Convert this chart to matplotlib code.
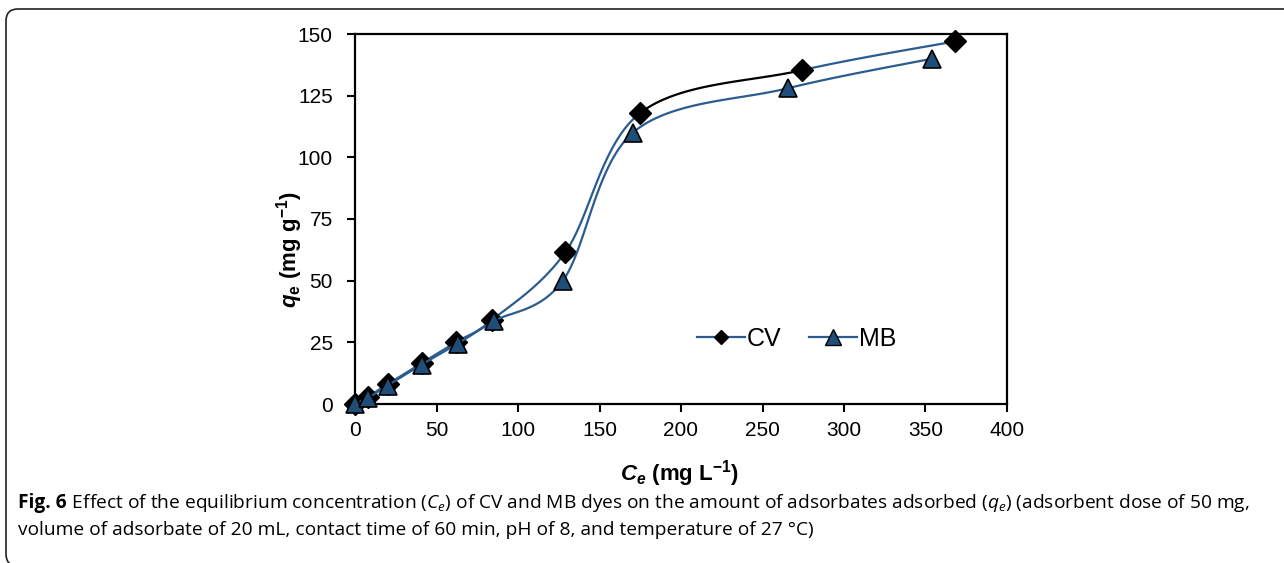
import numpy as np
import matplotlib
matplotlib.use("Agg")
import matplotlib.pyplot as plt
from matplotlib.patches import FancyBboxPatch

# values
cv_ce = [0, 8, 20, 41, 62, 84, 129, 175, 274, 368]
cv_qe = [0, 3, 8, 16.6, 25.1, 34, 61.5, 118, 135.3, 147]
mb_ce = [0, 8, 20, 41, 63, 85, 127.5, 170.5, 265.5, 354]
mb_qe = [0, 2.5, 7.5, 16, 24.5, 33.5, 50, 110, 128, 140]
x_ticks = [0, 50, 100, 150, 200, 250, 300, 350, 400]
y_ticks = [0, 25, 50, 75, 100, 125, 150]

BLUE = "#2B5C8F"
TRI = "#1F4E79"

plt.rcParams["mathtext.fontset"] = "custom"
plt.rcParams["mathtext.rm"] = "Open Sans"
plt.rcParams["mathtext.it"] = "Open Sans:italic"
plt.rcParams["mathtext.bf"] = "Liberation Sans:bold"
plt.rcParams["mathtext.bfit"] = "Liberation Sans:bold:italic"


def smooth(x, y, n=40):
    """Excel-like smoothed line: one cubic Bezier per segment."""
    p = np.column_stack([x, y]).astype(float)
    p = np.vstack([p[0], p, p[-1]])
    t = np.linspace(0, 1, n)[:, None]
    segs = []
    for i in range(1, len(p) - 2):
        p0, p1, p2, p3 = p[i - 1], p[i], p[i + 1], p[i + 2]
        c1 = p1 + (p2 - p0) / 6
        c2 = p2 - (p3 - p1) / 6
        segs.append((1 - t) ** 3 * p1 + 3 * (1 - t) ** 2 * t * c1
                    + 3 * (1 - t) * t ** 2 * c2 + t ** 3 * p2)
    return segs


fig = plt.figure(figsize=(12.84, 5.63), dpi=100)
ax = fig.add_axes([355 / 1284, 1 - 404 / 563, 652 / 1284, 370 / 563])

# CV: blue smoothed line, one black segment as in the original
cv_segs = smooth(cv_ce, cv_qe)
for i, s in enumerate(cv_segs):
    ax.plot(s[:, 0], s[:, 1], color="black" if i == 7 else BLUE, lw=1.6,
            solid_capstyle="round", clip_on=False, zorder=2)
ax.plot(cv_ce, cv_qe, ls="none", marker="D", ms=11, mfc="black", mec="black",
        clip_on=False, zorder=3)

mb_segs = smooth(mb_ce, mb_qe)
for s in mb_segs:
    ax.plot(s[:, 0], s[:, 1], color=BLUE, lw=1.6, clip_on=False, zorder=4)
ax.plot(mb_ce, mb_qe, ls="none", marker="^", ms=13.5, mfc=TRI, mec="black",
        mew=1.2, clip_on=False, zorder=5)

# legend handles
h_cv, = ax.plot([], [], color=BLUE, lw=1.6, marker="D", ms=7, mfc="black", mec="black")
h_mb, = ax.plot([], [], color=BLUE, lw=1.6, marker="^", ms=11, mfc=TRI, mec="black")
ax.legend([h_cv, h_mb], ["CV", "MB"], ncol=2, frameon=False, loc="center left",
          bbox_to_anchor=((697 - 355) / 652, (404 - 339) / 370),
          prop={"family": "Liberation Sans", "size": 18},
          handlelength=1.9, handletextpad=0.1, columnspacing=1.1, borderpad=0,
          borderaxespad=0)

ax.set_xlim(0, 400)
ax.set_ylim(0, 150)
ax.set_xticks(x_ticks)
ax.set_yticks(y_ticks)
for sp in ax.spines.values():
    sp.set_linewidth(1.6)
ax.tick_params(length=6, width=1.5, labelsize=15, direction="out")
ax.tick_params(axis="x", pad=6)
ax.tick_params(axis="y", pad=10)
for lab in ax.get_xticklabels() + ax.get_yticklabels():
    lab.set_family("Liberation Sans")

ax.set_xlabel(r"$\mathbfit{C}_\mathbfit{e}$ (mg L$^\mathbf{-1}$)",
              family="Liberation Sans", weight="bold", size=16, va="center")
ax.set_ylabel(r"$\mathbfit{q}_\mathbf{e}$ (mg g$^\mathbf{-1}$)",
              family="Liberation Sans", weight="bold", size=16, va="center")
ax.xaxis.set_label_coords((680 - 355) / 652, (404 - 474) / 370)
ax.yaxis.set_label_coords((290 - 355) / 652, (404 - 250) / 370)

# caption
W, H = 1284, 563
y1 = 1 - 508 / H
y2 = 1 - 535 / H
cap = dict(family="Open Sans", size=13.8, va="baseline")
t0 = fig.text(18 / W, y1, "Fig. 6", weight="bold", **cap)
fig.canvas.draw()
x_after = t0.get_window_extent().x1 / W
fig.text(x_after, y1,
         " Effect of the equilibrium concentration ($C_e$) of CV and MB dyes on the amount "
         "of adsorbates adsorbed ($q_e$) (adsorbent dose of 50 mg,", **cap)
fig.text(18 / W, y2,
         "volume of adsorbate of 20 mL, contact time of 60 min, pH of 8, and temperature of 27 °C)",
         **cap)

# rounded frame around the figure
fig.patches.append(FancyBboxPatch((0.06, -0.03), 13.2, 5.57,
                                  boxstyle="round,pad=0,rounding_size=0.12",
                                  transform=fig.dpi_scale_trans, fill=False,
                                  ec="#222222", lw=1.2))

fig.savefig("out.png", dpi=100)
